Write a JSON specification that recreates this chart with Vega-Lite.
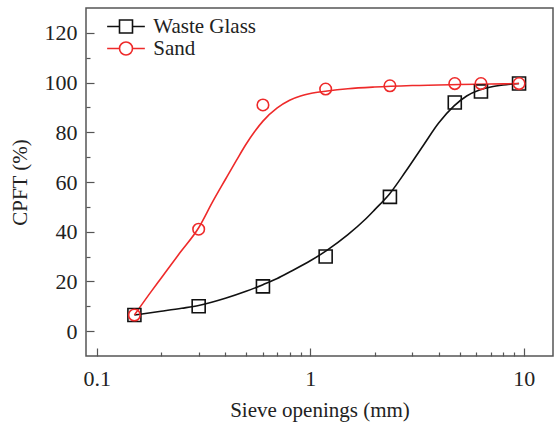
{
  "$schema": "https://vega.github.io/schema/vega-lite/v6.json",
  "width": 467,
  "height": 348,
  "autosize": "none",
  "padding": {"left": 86, "top": 8, "right": 2, "bottom": 69},
  "background": "white",
  "config": {
    "view": {"stroke": "#555555", "strokeWidth": 1.5},
    "axis": {
      "labelFont": "Liberation Serif",
      "titleFont": "Liberation Serif",
      "labelFontSize": 22,
      "titleFontSize": 21,
      "labelColor": "#222222",
      "titleColor": "#222222",
      "titleFontWeight": "normal",
      "tickColor": "#555555",
      "tickWidth": 1.2,
      "domain": false,
      "grid": false
    }
  },
  "datasets": {
    "curves": [
      {"size": 0.15, "cpft": 6.5, "series": "Waste Glass"},
      {"size": 0.2, "cpft": 8.0, "series": "Waste Glass"},
      {"size": 0.25, "cpft": 9.2, "series": "Waste Glass"},
      {"size": 0.3, "cpft": 10.3, "series": "Waste Glass"},
      {"size": 0.4, "cpft": 13.2, "series": "Waste Glass"},
      {"size": 0.5, "cpft": 16.0, "series": "Waste Glass"},
      {"size": 0.6, "cpft": 18.7, "series": "Waste Glass"},
      {"size": 0.7, "cpft": 21.2, "series": "Waste Glass"},
      {"size": 0.8, "cpft": 23.8, "series": "Waste Glass"},
      {"size": 1.0, "cpft": 28.3, "series": "Waste Glass"},
      {"size": 1.2, "cpft": 32.6, "series": "Waste Glass"},
      {"size": 1.5, "cpft": 38.8, "series": "Waste Glass"},
      {"size": 1.8, "cpft": 44.8, "series": "Waste Glass"},
      {"size": 2.0, "cpft": 48.8, "series": "Waste Glass"},
      {"size": 2.36, "cpft": 55.4, "series": "Waste Glass"},
      {"size": 2.8, "cpft": 64.3, "series": "Waste Glass"},
      {"size": 3.4, "cpft": 75.0, "series": "Waste Glass"},
      {"size": 4.0, "cpft": 83.8, "series": "Waste Glass"},
      {"size": 4.7, "cpft": 90.5, "series": "Waste Glass"},
      {"size": 5.4, "cpft": 94.6, "series": "Waste Glass"},
      {"size": 6.2, "cpft": 97.0, "series": "Waste Glass"},
      {"size": 7.0, "cpft": 98.2, "series": "Waste Glass"},
      {"size": 8.0, "cpft": 99.0, "series": "Waste Glass"},
      {"size": 9.5, "cpft": 99.6, "series": "Waste Glass"},
      {"size": 0.15, "cpft": 6.5, "series": "Sand"},
      {"size": 0.18, "cpft": 16.0, "series": "Sand"},
      {"size": 0.2, "cpft": 21.3, "series": "Sand"},
      {"size": 0.245, "cpft": 31.5, "series": "Sand"},
      {"size": 0.3, "cpft": 41.6, "series": "Sand"},
      {"size": 0.35, "cpft": 52.3, "series": "Sand"},
      {"size": 0.4, "cpft": 61.0, "series": "Sand"},
      {"size": 0.45, "cpft": 68.6, "series": "Sand"},
      {"size": 0.5, "cpft": 75.2, "series": "Sand"},
      {"size": 0.55, "cpft": 80.4, "series": "Sand"},
      {"size": 0.6, "cpft": 84.5, "series": "Sand"},
      {"size": 0.7, "cpft": 89.8, "series": "Sand"},
      {"size": 0.8, "cpft": 92.9, "series": "Sand"},
      {"size": 0.9, "cpft": 94.6, "series": "Sand"},
      {"size": 1.0, "cpft": 95.6, "series": "Sand"},
      {"size": 1.2, "cpft": 96.6, "series": "Sand"},
      {"size": 1.5, "cpft": 97.5, "series": "Sand"},
      {"size": 2.0, "cpft": 98.2, "series": "Sand"},
      {"size": 3.0, "cpft": 98.8, "series": "Sand"},
      {"size": 5.0, "cpft": 99.2, "series": "Sand"},
      {"size": 7.0, "cpft": 99.4, "series": "Sand"},
      {"size": 9.5, "cpft": 99.6, "series": "Sand"}
    ],
    "points": [
      {"size": 0.15, "cpft": 6.5, "series": "Waste Glass"},
      {"size": 0.3, "cpft": 10.0, "series": "Waste Glass"},
      {"size": 0.6, "cpft": 18.0, "series": "Waste Glass"},
      {"size": 1.18, "cpft": 30.0, "series": "Waste Glass"},
      {"size": 2.36, "cpft": 54.0, "series": "Waste Glass"},
      {"size": 4.75, "cpft": 92.0, "series": "Waste Glass"},
      {"size": 6.3, "cpft": 96.4, "series": "Waste Glass"},
      {"size": 9.5, "cpft": 99.6, "series": "Waste Glass"},
      {"size": 0.15, "cpft": 6.5, "series": "Sand"},
      {"size": 0.3, "cpft": 41.0, "series": "Sand"},
      {"size": 0.6, "cpft": 91.0, "series": "Sand"},
      {"size": 1.18, "cpft": 97.4, "series": "Sand"},
      {"size": 2.36, "cpft": 98.7, "series": "Sand"},
      {"size": 4.75, "cpft": 99.6, "series": "Sand"},
      {"size": 6.3, "cpft": 99.6, "series": "Sand"},
      {"size": 9.5, "cpft": 99.6, "series": "Sand"}
    ]
  },
  "layer": [
    {
      "data": {"name": "curves"},
      "mark": {"type": "line", "strokeWidth": 1.6, "interpolate": "monotone"},
      "encoding": {
        "x": {
          "field": "size", "type": "quantitative",
          "scale": {"type": "log", "domain": [0.089, 13.7], "nice": false},
          "axis": {
            "orient": "bottom",
            "values": [0.1, 1, 10],
            "format": "~g",
            "tickSize": -8,
            "labelPadding": 37,
            "labelBaseline": "alphabetic",
            "title": "Sieve openings (mm)",
            "titleX": 233.5,
            "titleY": 60.7,
            "titleBaseline": "alphabetic",
            "titleAlign": "center"
          }
        },
        "y": {
          "field": "cpft", "type": "quantitative",
          "scale": {"domain": [-10, 130], "nice": false, "zero": false},
          "axis": {
            "orient": "left",
            "values": [0, 20, 40, 60, 80, 100, 120],
            "tickSize": -8,
            "labelPadding": 17,
            "labelBaseline": "middle",
            "title": "CPFT (%)",
            "titleX": -59.5,
            "titleY": 174,
            "titleAngle": -90,
            "titleBaseline": "alphabetic",
            "titleAlign": "center"
          }
        },
        "color": {
          "field": "series", "type": "nominal",
          "scale": {"domain": ["Waste Glass", "Sand"], "range": ["#111111", "#ee2a2a"]},
          "legend": {
            "orient": "none",
            "legendX": 29.5,
            "legendY": 8,
            "title": null,
            "padding": 0,
            "rowPadding": 0,
            "symbolSize": 169,
            "symbolStrokeWidth": 1.6,
            "symbolFillColor": "transparent",
            "symbolType": {"expr": "datum.value === 'Sand' ? 'M-2.9,0H-1M1,0H2.9M1,0A1,1 0 1,1 -1,0A1,1 0 1,1 1,0' : 'M-2.9,0H-1M1,0H2.9M-1,-1H1V1H-1Z'"},
            "labelFont": "Liberation Serif",
            "labelFontSize": 21,
            "labelColor": "#222222",
            "labelOffset": 16.8,
            "encode": {
              "symbols": {
                "update": {
                  "shape": {"signal": "datum.value === 'Sand' ? 'M-2.9,0H-1M1,0H2.9M1,0A1,1 0 1,1 -1,0A1,1 0 1,1 1,0' : 'M-2.9,0H-1M1,0H2.9M-1,-1H1V1H-1Z'"},
                  "size": {"value": 169}
                }
              }
            }
          }
        }
      }
    },
    {
      "data": {"name": "points"},
      "transform": [{"filter": "datum.series === 'Waste Glass'"}],
      "mark": {"type": "point", "shape": "square", "size": 169, "filled": false, "strokeWidth": 1.6, "opacity": 1},
      "encoding": {
        "x": {
          "field": "size", "type": "quantitative",
          "axis": {
            "orient": "bottom",
            "values": [0.2, 0.3, 0.4, 0.5, 0.6, 0.7, 0.8, 0.9, 2, 3, 4, 5, 6, 7, 8, 9],
            "tickSize": -4,
            "labels": false,
            "title": null
          }
        },
        "y": {
          "field": "cpft", "type": "quantitative",
          "axis": {
            "orient": "left",
            "values": [10, 30, 50, 70, 90, 110],
            "tickSize": -4,
            "labels": false,
            "title": null
          }
        },
        "color": {"field": "series", "type": "nominal"}
      }
    },
    {
      "data": {"name": "points"},
      "transform": [{"filter": "datum.series === 'Sand'"}],
      "mark": {"type": "point", "shape": "circle", "size": 133, "filled": false, "strokeWidth": 1.6, "opacity": 1},
      "encoding": {
        "x": {"field": "size", "type": "quantitative", "axis": null},
        "y": {"field": "cpft", "type": "quantitative", "axis": null},
        "color": {"field": "series", "type": "nominal"}
      }
    }
  ],
  "resolve": {"axis": {"x": "independent", "y": "independent"}}
}
